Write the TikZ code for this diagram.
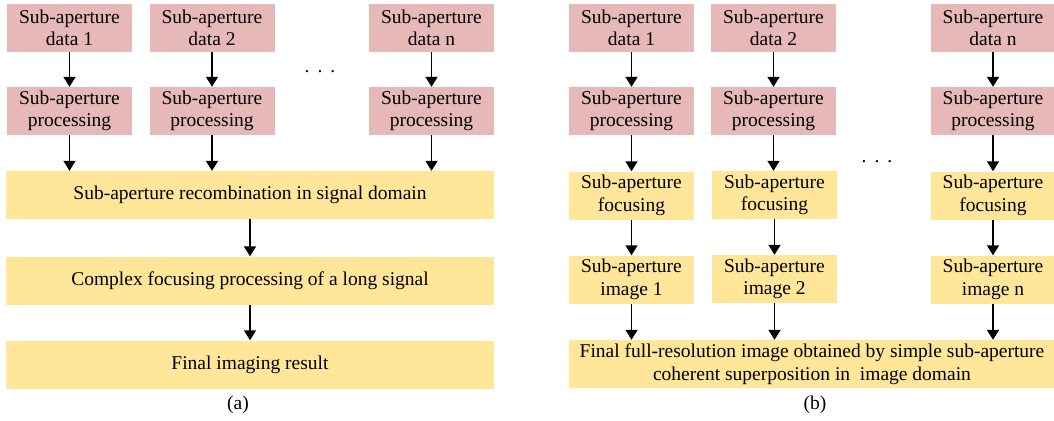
\documentclass[tikz,border=0pt]{standalone}
\usepackage{fontspec}
\setmainfont{Liberation Serif}
\usetikzlibrary{arrows.meta}
\definecolor{pinkbox}{HTML}{E6B9B8}
\definecolor{goldbox}{HTML}{FFE699}
\tikzset{
  cell/.style={rectangle, inner sep=0pt, minimum width=125pt, minimum height=48pt,
    align=center, font=\rmfamily\fontsize{19.5}{22.5}\selectfont},
  rawbox/.style={cell, fill=pinkbox},
  focbox/.style={cell, fill=goldbox},
  widebox/.style={cell, fill=goldbox, minimum width=488pt},
  flow/.style={line width=1.6pt, -{Triangle[length=10pt,width=12pt]}},
  plain/.style={font=\rmfamily\fontsize{19.5}{22.5}\selectfont},
}
\begin{document}
\begin{tikzpicture}[x=1pt,y=-1pt]
\useasboundingbox[fill=white] (0,0) rectangle (1054,420);

% ---- (a) recombination in the signal domain ----
\node[rawbox] (ad1) at (69.5,28) {Sub-aperture\\data 1};
\node[rawbox] (ad2) at (212,28) {Sub-aperture\\data 2};
\node[rawbox] (adn) at (431.5,28) {Sub-aperture\\data n};
\node[rawbox] (ap1) at (69.5,111) {Sub-aperture\\processing};
\node[rawbox] (ap2) at (212,111) {Sub-aperture\\processing};
\node[rawbox] (apn) at (431.5,111) {Sub-aperture\\processing};
\node[plain] (adots) at (320,72) {.\hspace{8pt}.\hspace{8pt}.};
\node[widebox] (arec) at (250,195) {Sub-aperture recombination in signal domain};
\node[widebox] (afoc) at (250,280.5) {Complex focusing processing of a long signal};
\node[widebox] (ares) at (250,364.5) {Final imaging result};
\node[plain] (acap) at (238,405) {(a)};

\draw[flow] (ad1) -- (ap1);
\draw[flow] (ad2) -- (ap2);
\draw[flow] (adn) -- (apn);
\draw[flow] (ap1.south) -- (ap1.south |- arec.north);
\draw[flow] (ap2.south) -- (ap2.south |- arec.north);
\draw[flow] (apn.south) -- (apn.south |- arec.north);
\draw[flow] (arec) -- (afoc);
\draw[flow] (afoc) -- (ares);

% ---- (b) coherent superposition in the image domain ----
\node[rawbox] (bd1) at (631.5,28) {Sub-aperture\\data 1};
\node[rawbox] (bd2) at (773.5,28) {Sub-aperture\\data 2};
\node[rawbox] (bdn) at (993,28) {Sub-aperture\\data n};
\node[rawbox] (bp1) at (631.5,111) {Sub-aperture\\processing};
\node[rawbox] (bp2) at (773.5,111) {Sub-aperture\\processing};
\node[rawbox] (bpn) at (993,111) {Sub-aperture\\processing};
\node[focbox] (bf1) at (631.5,195.5) {Sub-aperture\\focusing};
\node[focbox] (bf2) at (774.5,195) {Sub-aperture\\focusing};
\node[focbox] (bfn) at (993,195.5) {Sub-aperture\\focusing};
\node[focbox] (bi1) at (631.5,279.5) {Sub-aperture\\image 1};
\node[focbox] (bi2) at (774.5,279) {Sub-aperture\\image 2};
\node[focbox] (bin) at (993,279.5) {Sub-aperture\\image n};
\node[plain] (bdots) at (877,162) {.\hspace{8pt}.\hspace{8pt}.};
\node[widebox, minimum width=486pt] (bfin) at (812,364)
  {Final full-resolution image obtained by simple sub-aperture\\coherent superposition in\ \ image domain};
\node[plain] (bcap) at (815,405) {(b)};

\draw[flow] (bd1) -- (bp1);
\draw[flow] (bd2) -- (bp2);
\draw[flow] (bdn) -- (bpn);
\draw[flow] (bp1) -- (bf1);
\draw[flow] (bp2.south) -- (bp2.south |- bf2.north);
\draw[flow] (bpn) -- (bfn);
\draw[flow] (bf1) -- (bi1);
\draw[flow] (bf2) -- (bi2);
\draw[flow] (bfn) -- (bin);
\draw[flow] (bi1.south) -- (bi1.south |- bfin.north);
\draw[flow] (bi2.south) -- (bi2.south |- bfin.north);
\draw[flow] (bin.south) -- (bin.south |- bfin.north);
\end{tikzpicture}
\end{document}
